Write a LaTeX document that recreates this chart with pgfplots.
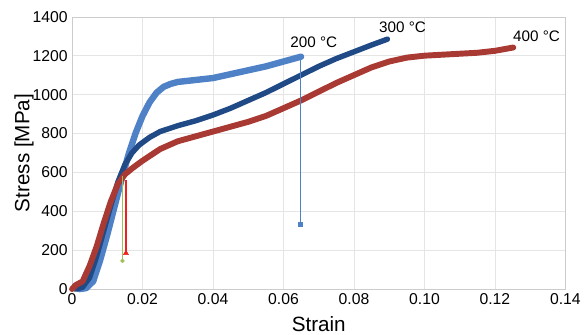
\documentclass[border=0pt]{standalone}
\usepackage{pgfplots}
\pgfplotsset{compat=1.18}
\usepackage{fontspec}
\setmainfont{Liberation Sans}
\definecolor{lb}{HTML}{4F81C7}
\definecolor{db}{HTML}{1F4A86}
\definecolor{rd}{HTML}{A83A33}
\definecolor{gr}{HTML}{9BC055}
\definecolor{rr}{HTML}{F02020}
\begin{document}
\begin{tikzpicture}
\begin{axis}[
  scale only axis, width=500bp, height=276bp,
  xmin=0, xmax=0.14, ymin=0, ymax=1400,
  xtick={0,0.02,0.04,0.06,0.08,0.10,0.12,0.14},
  xticklabels={0,0.02,0.04,0.06,0.08,0.10,0.12,0.14},
  ytick={0,200,...,1400},
  /pgf/number format/assume math mode=true,
  /pgf/number format/set thousands separator={},
  ticklabel style={font=\fontsize{16}{16}\selectfont},
  xticklabel style={yshift=-1bp},
  yticklabel style={xshift=-1bp},
  xlabel={Strain}, ylabel={Stress [MPa]},
  label style={font=\fontsize{21}{21}\selectfont},
  xlabel style={yshift=-5bp},
  ylabel style={yshift=-8bp},
  grid=major, grid style={gray!20},
  axis line style={gray!40},
  major tick length=0pt,
  clip=false,
]
\addplot[line width=6.5bp, lb, line join=round, line cap=round] coordinates {
(0.002,0)(0.004,5)(0.006,40)(0.008,150)(0.010,280)(0.012,420)(0.014,560)(0.016,690)(0.018,800)(0.020,890)(0.022,960)(0.024,1010)(0.026,1040)(0.028,1055)(0.030,1065)(0.035,1075)(0.040,1085)(0.045,1105)(0.050,1125)(0.055,1145)(0.060,1170)(0.065,1195)};
\addplot[line width=5.5bp, db, line join=round, line cap=round] coordinates {
(0.001,0)(0.003,10)(0.005,60)(0.007,170)(0.009,300)(0.011,430)(0.013,550)(0.015,640)(0.017,700)(0.019,740)(0.022,780)(0.025,810)(0.030,840)(0.035,865)(0.040,895)(0.045,930)(0.050,970)(0.055,1010)(0.060,1055)(0.065,1100)(0.070,1145)(0.075,1185)(0.080,1220)(0.085,1255)(0.0895,1285)};
\addplot[line width=6bp, rd, line join=round, line cap=round] coordinates {
(0.000,0)(0.001,20)(0.003,40)(0.005,120)(0.007,220)(0.009,340)(0.011,450)(0.013,540)(0.015,590)(0.017,620)(0.020,660)(0.025,720)(0.030,760)(0.035,785)(0.040,810)(0.045,835)(0.050,860)(0.055,890)(0.060,930)(0.065,970)(0.070,1015)(0.075,1060)(0.080,1100)(0.085,1140)(0.090,1170)(0.095,1190)(0.100,1200)(0.105,1205)(0.110,1210)(0.115,1215)(0.120,1225)(0.1252,1242)};
\addplot[color=lb, line width=0.9bp, no markers] coordinates {(0.0648,1195)(0.0648,335)};
\addplot[color=lb, only marks, mark=square*, mark size=2.2bp] coordinates {(0.0648,335)};
\addplot[color=gr, line width=1bp, no markers] coordinates {(0.0143,580)(0.0143,145)};
\addplot[color=gr, only marks, mark=*, mark size=2bp] coordinates {(0.0143,145)};
\addplot[color=rr, line width=1.3bp, no markers] coordinates {(0.0153,560)(0.0153,185)};
\addplot[color=rr, only marks, mark=triangle*, mark size=3bp] coordinates {(0.0153,185)};
\node[font=\fontsize{15.5}{15.5}\selectfont] at (axis cs:0.0686,1270) {200 °C};
\node[font=\fontsize{15.5}{15.5}\selectfont] at (axis cs:0.0938,1345) {300 °C};
\node[font=\fontsize{15.5}{15.5}\selectfont] at (axis cs:0.1318,1300) {400 °C};
\end{axis}
\path[use as bounding box] ([shift={(-73bp,-43bp)}]current axis.south west) rectangle ([shift={(11bp,17bp)}]current axis.north east);
\end{tikzpicture}
\end{document}
